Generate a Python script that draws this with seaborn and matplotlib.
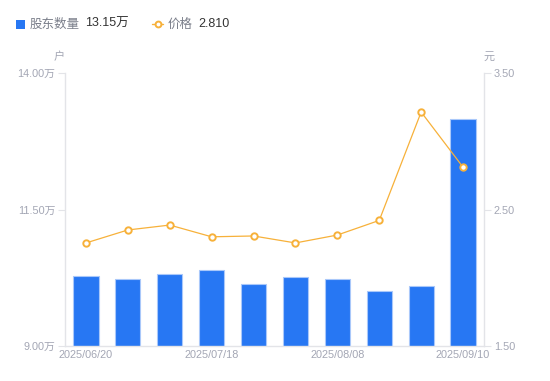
import numpy as np
import pandas as pd
import matplotlib
matplotlib.use("Agg")
import matplotlib.pyplot as plt
import seaborn as sns
from matplotlib.lines import Line2D
from matplotlib.patches import Rectangle

dates = ["2025/06/20", "2025/06/30", "2025/07/10", "2025/07/18", "2025/07/31",
         "2025/08/01", "2025/08/08", "2025/08/20", "2025/08/29", "2025/09/10"]
holders = [10.28, 10.22, 10.32, 10.39, 10.14, 10.26, 10.23, 10.01, 10.09, 13.15]  # 万户
prices = [2.255, 2.35, 2.386, 2.30, 2.306, 2.255, 2.313, 2.42, 3.214, 2.810]
shown_ticks = ["2025/06/20", "2025/07/18", "2025/08/08", "2025/09/10"]
left_ticks = [9.00, 11.50, 14.00]
right_ticks = [1.50, 2.50, 3.50]

sns.set_theme(style="white")
plt.rcParams['font.family'] = ['Liberation Sans', 'Noto Sans CJK SC', 'DejaVu Sans']
CJK = ['Noto Sans CJK SC', 'DejaVu Sans']

BLUE = "#2777F3"
ORANGE = "#F7B13A"
TICK = "#A3A6B4"
SPINE = "#E3E4E8"

fig = plt.figure(figsize=(5.5, 3.81), dpi=100)
ax = fig.add_axes([65/550, 35/381, (484-65)/550, (346-73)/381])

df = pd.DataFrame({"date": dates, "holders": holders, "price": prices})
sns.barplot(data=df, x="date", y="holders", ax=ax, color=BLUE, saturation=1,
            width=0.6, edgecolor="#A9C8FA", linewidth=0.8)
ax.set_xlim(-0.5, len(dates) - 0.5)
ax.set_ylim(9.0, 14.0)
ax.set_yticks(left_ticks)
ax.set_yticklabels([f"{v:.2f}万" for v in left_ticks])
pos = [dates.index(d) for d in shown_ticks]
ax.set_xticks(pos)
ax.set_xticklabels(shown_ticks)
ax.set_xlabel("")
ax.set_ylabel("")

ax2 = ax.twinx()
df["pos"] = np.arange(len(dates))
sns.lineplot(data=df, x="pos", y="price", ax=ax2, color=ORANGE, linewidth=0.9,
             marker="o", markersize=4.6, markerfacecolor="white",
             markeredgecolor=ORANGE, markeredgewidth=1.4)
ax2.set_ylim(1.5, 3.5)
ax2.set_yticks(right_ticks)
ax2.set_yticklabels([f"{v:.2f}" for v in right_ticks])
ax2.set_xlabel("")
ax2.set_ylabel("")
ax2.set_xlim(-0.5, len(dates) - 0.5)

for a in (ax, ax2):
    for s in a.spines.values():
        s.set_visible(False)
ax.spines["left"].set_visible(True)
ax.spines["bottom"].set_visible(True)
ax2.spines["right"].set_visible(True)
for s in (ax.spines["left"], ax.spines["bottom"], ax2.spines["right"]):
    s.set_color(SPINE)
    s.set_linewidth(1)

ax.tick_params(axis="y", labelsize=7.8, length=5, width=0.8, pad=2,
               left=True, color=SPINE, labelcolor=TICK)
ax.tick_params(axis="x", labelcolor=TICK, labelsize=7.8, length=0, pad=3)
ax2.tick_params(axis="y", labelcolor=TICK, labelsize=7.8, length=5, width=0.8,
                pad=2, right=True, color=SPINE)

fig.text(59/550, 1 - 57/381, "户", color=TICK, fontsize=8, ha="center", va="center",
         family=CJK)
fig.text(489/550, 1 - 57/381, "元", color=TICK, fontsize=8, ha="center", va="center",
         family=CJK)

# legend header
fig.patches.append(Rectangle((16/550, 1 - 29/381), 9/550, 9/381, transform=fig.transFigure,
                             facecolor=BLUE, edgecolor="none", figure=fig))
ly = 1 - 24/381
fig.text(30/550, ly, "股东数量", color="#7A7E8A", fontsize=9, va="center", family=CJK)
fig.text(85/550, ly, f"{holders[-1]:.2f}万", color="#333333", fontsize=9, va="center")
fig.lines.append(Line2D([152/550, 163/550], [ly, ly], transform=fig.transFigure,
                        color=ORANGE, linewidth=1, figure=fig))
fig.lines.append(Line2D([157.5/550], [ly], transform=fig.transFigure, color=ORANGE,
                        marker="o", markersize=4.2, markerfacecolor="white",
                        markeredgewidth=1.4, linestyle="none", figure=fig))
fig.text(168/550, ly, "价格", color="#7A7E8A", fontsize=9, va="center", family=CJK)
fig.text(198/550, ly, f"{prices[-1]:.3f}", color="#333333", fontsize=9, va="center")

fig.savefig("out.png", dpi=100)
